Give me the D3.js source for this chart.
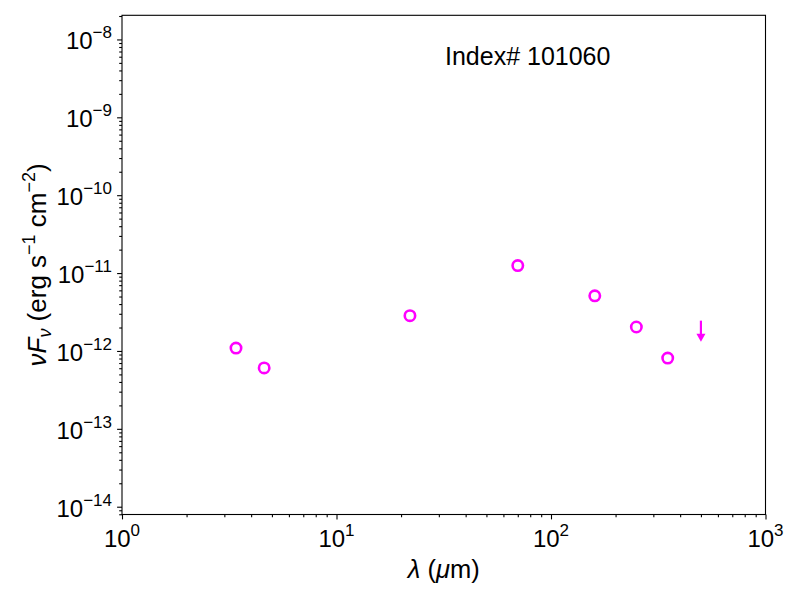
<!DOCTYPE html>
<html>
<head>
<meta charset="utf-8">
<script src="https://cdn.jsdelivr.net/npm/d3@7/dist/d3.min.js"></script>
<style>
  body { margin: 0; background: #fff; }
  svg { display: block; }
  text { font-family: "Liberation Sans", Arial, Helvetica, sans-serif; fill: #000; }
</style>
</head>
<body>
<svg id="chart" width="800" height="600"></svg>
<script>
// ---- data ----
const wavelengths = [3.4, 4.6, 22, 70, 160, 250, 350];          // µm
const fluxes = [1.09e-12, 6.05e-13, 2.84e-12, 1.25e-11, 5.1e-12, 2.03e-12, 8.1e-13]; // erg s^-1 cm^-2
const limitWavelengths = [500];
const limitFluxes = [2.45e-12];
const xMajorExps = [0, 1, 2, 3];
const yMajorExps = [-14, -13, -12, -11, -10, -9, -8];
const labelText = "Index# 101060";

(function () {
// ---- layout ----
const W = 800, H = 600;
const mLeft = 122, mRight = 765.5, mTop = 15.3, mBottom = 514.5;
const color = "#ff00ff";

const svg = d3.select("#chart");
svg.append("rect").attr("width", W).attr("height", H).attr("fill", "#fff");

const x = d3.scaleLog().domain([1, 1000]).range([mLeft, mRight]);
const y = d3.scaleLog().domain([Math.pow(10, -14.1), Math.pow(10, -7.69)]).range([mBottom, mTop]);

// minor ticks
const xMinor = [];
[1, 10, 100].forEach(d => { for (let k = 2; k <= 9; k++) xMinor.push(d * k); });
const yMinor = [];
for (let e = -15; e <= -8; e++) for (let k = 2; k <= 9; k++) {
  const v = k * Math.pow(10, e);
  if (v >= y.domain()[0] && v <= y.domain()[1]) yMinor.push(v);
}
const xMajor = xMajorExps.map(e => Math.pow(10, e));
const yMajor = yMajorExps.map(e => Math.pow(10, e));

function styleAxis(g) {
  g.select(".domain").remove();
  g.selectAll(".tick line").attr("stroke", "#000").attr("stroke-width", 1.1);
}

// x axis ticks
svg.append("g").attr("transform", `translate(0,${mBottom})`)
  .call(d3.axisBottom(x).tickValues(xMajor).tickSize(4.9).tickFormat(""))
  .call(styleAxis);
svg.append("g").attr("transform", `translate(0,${mBottom})`)
  .call(d3.axisBottom(x).tickValues(xMinor).tickSize(2.8).tickFormat(""))
  .call(styleAxis);
// y axis ticks
svg.append("g").attr("transform", `translate(${mLeft},0)`)
  .call(d3.axisLeft(y).tickValues(yMajor).tickSize(4.9).tickFormat(""))
  .call(styleAxis);
svg.append("g").attr("transform", `translate(${mLeft},0)`)
  .call(d3.axisLeft(y).tickValues(yMinor).tickSize(2.8).tickFormat(""))
  .call(styleAxis);

// frame
svg.append("rect").attr("x", mLeft).attr("y", mTop)
  .attr("width", mRight - mLeft).attr("height", mBottom - mTop)
  .attr("fill", "none").attr("stroke", "#000").attr("stroke-width", 1.1);

// x tick labels
xMajorExps.forEach(e => {
  const t = svg.append("text").attr("x", x(Math.pow(10, e))).attr("y", mBottom + 32.5)
    .attr("text-anchor", "middle").attr("font-size", 24);
  t.append("tspan").text("10");
  t.append("tspan").attr("dy", -11).attr("font-size", 17).text(String(e));
});
// y tick labels
yMajorExps.forEach(e => {
  const t = svg.append("text").attr("x", mLeft - 10).attr("y", y(Math.pow(10, e)) + 10)
    .attr("text-anchor", "end").attr("font-size", 24);
  t.append("tspan").text("10");
  t.append("tspan").attr("dy", -11).attr("font-size", 17).text("\u2212" + Math.abs(e));
});

// axis labels
const xl = svg.append("text").attr("x", (mLeft + mRight) / 2).attr("y", 578)
  .attr("text-anchor", "middle").attr("font-size", 25.5);
xl.append("tspan").attr("font-style", "italic").text("λ");
xl.append("tspan").text(" (");
xl.append("tspan").attr("font-style", "italic").text("μ");
xl.append("tspan").text("m)");

const yl = svg.append("text")
  .attr("transform", `translate(46,${(mTop + mBottom) / 2}) rotate(-90)`)
  .attr("text-anchor", "middle").attr("font-size", 26);
yl.append("tspan").attr("font-style", "italic").text("νF");
yl.append("tspan").attr("font-style", "italic").attr("font-size", 18).attr("dy", 5).text("ν");
yl.append("tspan").attr("dy", -5).text(" (erg s");
yl.append("tspan").attr("font-size", 18).attr("dy", -11).text("\u22121");
yl.append("tspan").attr("dy", 11).text(" cm");
yl.append("tspan").attr("font-size", 18).attr("dy", -11).text("\u22122");
yl.append("tspan").attr("dy", 11).text(")");

// annotation
svg.append("text").attr("x", 445).attr("y", 64.5).attr("font-size", 25).text(labelText);

// points
svg.append("g").selectAll("circle")
  .data(wavelengths.map((w, i) => ({ w, f: fluxes[i] })))
  .join("circle")
  .attr("cx", d => x(d.w)).attr("cy", d => y(d.f)).attr("r", 5.2)
  .attr("fill", "none").attr("stroke", color).attr("stroke-width", 2.6);

// upper limits
const lim = svg.append("g").selectAll("g")
  .data(limitWavelengths.map((w, i) => ({ w, f: limitFluxes[i] })))
  .join("g")
  .attr("transform", d => `translate(${x(d.w)},${y(d.f)})`);
lim.append("line").attr("x1", 0).attr("x2", 0).attr("y1", 0).attr("y2", 14)
  .attr("stroke", color).attr("stroke-width", 2.2);
lim.append("path").attr("d", "M-4.5,13 L4.5,13 L0,21 Z").attr("fill", color);
})();
</script>
</body>
</html>
